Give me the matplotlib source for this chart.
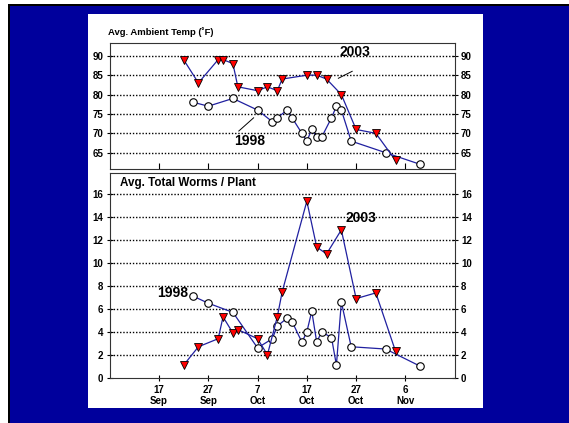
import matplotlib
matplotlib.use("Agg")
import matplotlib.pyplot as plt
from matplotlib.patches import Rectangle

plt.rcParams['font.family'] = ['Liberation Sans', 'DejaVu Sans']
plt.rcParams['font.weight'] = 'bold'

# x = day counted from 31 Aug (1 Oct = 31, 1 Nov = 62)
temp03_x = [22, 25, 29, 30, 32, 33, 37, 39, 41, 42, 47, 49, 51, 54, 57, 61, 65]
temp03_y = [89, 83, 89, 89, 88, 82, 81, 82, 81, 84, 85, 85, 84, 80, 71, 70, 63]
temp98_x = [24, 27, 32, 37, 40, 41, 43, 44, 46, 47, 48, 49, 50, 52, 53, 54, 56, 63, 70]
temp98_y = [78, 77, 79, 76, 73, 74, 76, 74, 70, 68, 71, 69, 69, 74, 77, 76, 68, 65, 62]

worm03_x = [22, 25, 29, 30, 32, 33, 37, 39, 41, 42, 47, 49, 51, 54, 57, 61, 65]
worm03_y = [1.1, 2.7, 3.4, 5.3, 3.9, 4.2, 3.4, 2.0, 5.3, 7.5, 15.4, 11.4, 10.8, 12.9, 6.9, 7.4, 2.3]
worm98_x = [24, 27, 32, 37, 40, 41, 43, 44, 46, 47, 48, 49, 50, 52, 53, 54, 56, 63, 70]
worm98_y = [7.1, 6.5, 5.7, 2.6, 3.4, 4.5, 5.2, 4.9, 3.1, 4.0, 5.8, 3.1, 4.0, 3.5, 1.1, 6.6, 2.7, 2.5, 1.0]

xtick_pos = [17, 27, 37, 47, 57, 67]
xtick_labels = ['17\nSep', '27\nSep', '7\nOct', '17\nOct', '27\nOct', '6\nNov']
temp_ticks = [65, 70, 75, 80, 85, 90]
worm_ticks = [0, 2, 4, 6, 8, 10, 12, 14, 16]

W, H = 569, 423
fig = plt.figure(figsize=(W / 100, H / 100), dpi=100)
fig.patch.set_facecolor('#00009C')

def frect(x0, y0, x1, y1, color):
    fig.patches.append(Rectangle((x0 / W, 1 - y1 / H), (x1 - x0) / W, (y1 - y0) / H,
                                 transform=fig.transFigure, facecolor=color,
                                 edgecolor='none', zorder=-10))

frect(0, 0, W, 4, 'white')
frect(0, 0, 8, H, 'white')
frect(8, 4, W, 6, 'black')
frect(8, 4, 10, H, 'black')
frect(88, 14, 483, 408, 'white')

line_col = '#2020A0'

def setup(ax, ticks, ylim):
    ax.set_zorder(5)
    ax.set_facecolor('white')
    ax.set_xlim(7, 77)
    ax.set_ylim(*ylim)
    ax.set_yticks(ticks)
    ax.tick_params(axis='y', which='both', direction='inout', length=5, width=0.8,
                   labelsize=7, left=True, right=True, labelleft=True, labelright=True,
                   pad=2)
    for lab in ax.get_yticklabels():
        lab.set_fontweight('bold')
    for t in ticks:
        if t > ylim[0]:
            ax.axhline(t, color='black', linestyle=(0, (1, 1.3)), linewidth=1.0, zorder=1)
    for s in ax.spines.values():
        s.set_color('#333333')
        s.set_linewidth(0.8)

def plot_series(ax, x98, y98, x03, y03):
    ax.plot(x98, y98, color=line_col, linewidth=0.9, marker='o', markersize=5.4,
            markerfacecolor='white', markeredgecolor='black', markeredgewidth=0.8,
            zorder=3, clip_on=False)
    ax.plot(x03, y03, color=line_col, linewidth=0.9, marker='v', markersize=6,
            markerfacecolor='#FF0000', markeredgecolor='black', markeredgewidth=0.6,
            zorder=4, clip_on=False)

ax1 = fig.add_axes([109.7 / W, 1 - 169 / H, 345 / W, 126 / H])
setup(ax1, temp_ticks, (60.8, 93.3))
plot_series(ax1, temp98_x, temp98_y, temp03_x, temp03_y)
ax1.set_xticks(xtick_pos)
ax1.tick_params(axis='x', direction='in', length=4, labelbottom=False)
ax1.text(53.7, 90.9, '2003', fontsize=10, fontweight='bold', ha='left', va='center')
ax1.plot([53.4, 56.2], [84.2, 86.0], color='black', linewidth=0.7)
ax1.text(32.2, 68.0, '1998', fontsize=10, fontweight='bold', ha='left', va='center')
ax1.plot([33.2, 36.2], [70.6, 74.0], color='black', linewidth=0.7)
fig.text(108 / W, 1 - 35 / H, 'Avg. Ambient Temp (\u02DAF)', fontsize=6.8,
         fontweight='bold', ha='left', va='baseline')

ax2 = fig.add_axes([109.7 / W, 1 - 377.7 / H, 345 / W, 204.7 / H])
setup(ax2, worm_ticks, (0, 17.86))
plot_series(ax2, worm98_x, worm98_y, worm03_x, worm03_y)
ax2.set_xticks(xtick_pos)
ax2.set_xticklabels(xtick_labels, fontsize=7, fontweight='bold', linespacing=1.1)
ax2.tick_params(axis='x', direction='inout', length=5, width=0.8, pad=3)
ax2.text(54.8, 13.9, '2003', fontsize=10, fontweight='bold', ha='left', va='center')
ax2.text(16.7, 7.35, '1998', fontsize=10, fontweight='bold', ha='left', va='center')
ax2.text(9.0, 16.95, 'Avg. Total Worms / Plant', fontsize=8.4, fontweight='bold',
         ha='left', va='center')

fig.savefig('out.png', dpi=100, facecolor=fig.get_facecolor())
